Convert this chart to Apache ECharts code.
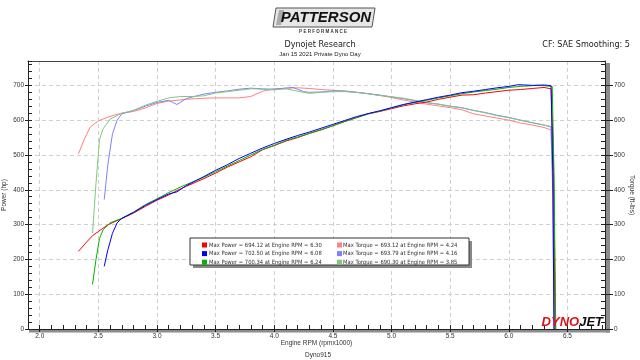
<!DOCTYPE html>
<html><head><meta charset="utf-8">
<script src="https://cdn.jsdelivr.net/npm/echarts@6/dist/echarts.min.js"></script>
<style>html,body{margin:0;padding:0;background:#fff}#c{width:640px;height:360px}</style>
</head><body><div id="c"></div>
<script>
// ---- data (rpm x1000, value) ----
const redPower = [[2.33,223],[2.40,250],[2.45,268],[2.50,280],[2.575,298],[2.65,310],[2.70,317],[2.80,333],[2.90,352],[3.00,370],[3.10,385],[3.17,398],[3.25,410],[3.40,432],[3.50,448],[3.60,465],[3.70,480],[3.80,495],[3.90,515],[4.00,527],[4.10,540],[4.20,550],[4.30,562],[4.40,572],[4.50,584],[4.60,596],[4.70,607],[4.80,618],[4.90,625],[5.00,633],[5.10,641],[5.20,647],[5.30,652],[5.40,660],[5.50,666],[5.60,672],[5.70,673],[5.80,678],[5.90,682],[6.00,686],[6.10,688],[6.20,691],[6.30,694],[6.36,690],[6.38,500],[6.395,0]];
const redTorque = [[2.33,503],[2.38,545],[2.43,580],[2.50,598],[2.575,608],[2.65,616],[2.70,620],[2.80,625],[2.90,635],[3.00,648],[3.10,655],[3.17,657],[3.25,660],[3.40,663],[3.50,664],[3.60,664],[3.70,664],[3.80,668],[3.90,683],[4.00,690],[4.10,692],[4.20,693],[4.30,691],[4.40,688],[4.50,686],[4.60,683],[4.70,680],[4.80,676],[4.90,671],[5.00,665],[5.10,658],[5.20,652],[5.30,646],[5.40,641],[5.50,636],[5.60,630],[5.70,618],[5.80,612],[5.90,606],[6.00,600],[6.10,592],[6.20,586],[6.30,579],[6.36,572],[6.38,400],[6.395,0]];
const bluePower = [[2.55,180],[2.58,226],[2.62,275],[2.66,305],[2.70,318],[2.80,335],[2.90,355],[3.00,372],[3.10,388],[3.17,394],[3.25,412],[3.40,438],[3.50,456],[3.60,472],[3.70,490],[3.80,505],[3.90,520],[4.00,533],[4.10,545],[4.20,556],[4.30,566],[4.40,577],[4.50,588],[4.60,599],[4.70,610],[4.80,619],[4.90,627],[5.00,636],[5.10,645],[5.20,652],[5.30,659],[5.40,666],[5.50,672],[5.60,679],[5.70,683],[5.80,688],[5.90,693],[6.00,697],[6.08,702],[6.20,700],[6.30,701],[6.36,699],[6.375,450],[6.385,0]];
const blueTorque = [[2.55,372],[2.58,470],[2.62,560],[2.66,600],[2.70,618],[2.80,628],[2.90,640],[3.00,651],[3.10,657],[3.17,645],[3.25,662],[3.40,675],[3.50,680],[3.60,684],[3.70,689],[3.80,692],[3.90,690],[4.00,689],[4.10,692],[4.16,694],[4.25,682],[4.30,680],[4.40,681],[4.50,684],[4.60,684],[4.70,680],[4.80,676],[4.90,672],[5.00,667],[5.10,662],[5.20,656],[5.30,650],[5.40,646],[5.50,640],[5.60,636],[5.70,628],[5.80,622],[5.90,614],[6.00,608],[6.10,600],[6.20,593],[6.30,586],[6.36,580],[6.375,380],[6.385,0]];
const greenPower = [[2.45,128],[2.48,200],[2.51,260],[2.54,285],[2.60,305],[2.70,318],[2.80,336],[2.90,357],[3.00,374],[3.10,392],[3.20,408],[3.30,422],[3.40,436],[3.50,452],[3.60,468],[3.70,484],[3.80,500],[3.90,516],[4.00,528],[4.10,542],[4.20,552],[4.30,562],[4.40,573],[4.50,584],[4.60,596],[4.70,607],[4.80,618],[4.90,626],[5.00,635],[5.10,644],[5.20,651],[5.30,657],[5.40,664],[5.50,670],[5.60,676],[5.70,681],[5.80,685],[5.90,689],[6.00,694],[6.10,697],[6.24,700],[6.30,699],[6.37,697],[6.385,450],[6.40,0]];
const greenTorque = [[2.45,275],[2.48,420],[2.51,545],[2.54,575],[2.60,603],[2.70,620],[2.80,628],[2.90,643],[3.00,654],[3.10,664],[3.20,668],[3.30,668],[3.40,670],[3.50,678],[3.60,682],[3.70,686],[3.80,690],[3.85,690],[3.90,688],[4.00,687],[4.10,690],[4.20,683],[4.30,677],[4.40,680],[4.50,682],[4.60,682],[4.70,680],[4.80,676],[4.90,671],[5.00,667],[5.10,663],[5.20,657],[5.30,651],[5.40,646],[5.50,640],[5.60,635],[5.70,628],[5.80,621],[5.90,613],[6.00,607],[6.10,600],[6.20,592],[6.30,586],[6.37,581],[6.385,380],[6.40,0]];

const legendPower = ['Max Power = 694.12 at Engine RPM = 6.30','Max Power = 702.50 at Engine RPM = 6.08','Max Power = 700.34 at Engine RPM = 6.24'];
const legendTorque = ['Max Torque = 693.12 at Engine RPM = 4.24','Max Torque = 693.79 at Engine RPM = 4.16','Max Torque = 690.30 at Engine RPM = 3.85'];

const powerColors = ['#ff0000','#0000ff','#00b400'];
const torqueColors = ['#ff8080','#8080ff','#80c880'];

const X_MIN = 1.9, X_MAX = 6.82, Y_MAX = 770;
const font = 'Liberation Sans';
const lab = {fontFamily: font, fontSize: 6.5, color: '#333'};

const chart = echarts.init(document.getElementById('c'), null, {renderer: 'canvas'});

function line(data, color, yIdx, name){
  return {type:'line', name, data, xAxisIndex:0, yAxisIndex:yIdx, showSymbol:false, symbol:'none',
    lineStyle:{width:1, color}, itemStyle:{color}, animation:false, z:3};
}

const series = [
  line(redTorque, torqueColors[0], 1, 'rt'),
  line(blueTorque, torqueColors[1], 1, 'bt'),
  line(greenTorque, torqueColors[2], 1, 'gt'),
  line(redPower, powerColors[0], 0, 'rp'),
  line(greenPower, powerColors[2], 0, 'gp'),
  line(bluePower, powerColors[1], 0, 'bp'),
];

// legend graphic
const legendGroup = [];
const lx = 190, ly = 238, lw = 279, lh = 27;
legendGroup.push({type:'rect', shape:{x:lx+3, y:ly+3, width:lw, height:lh}, style:{fill:'#888'}, z:10});
legendGroup.push({type:'rect', shape:{x:lx, y:ly, width:lw, height:lh}, style:{fill:'#fff', stroke:'#333', lineWidth:1}, z:11});
for (let i=0;i<3;i++){
  const y = ly + 4.5 + i*8.6;
  legendGroup.push({type:'rect', shape:{x:lx+12, y:y, width:5, height:5}, style:{fill:powerColors[i]}, z:12});
  legendGroup.push({type:'text', x:lx+19, y:y+2.5, style:{text:legendPower[i], fill:'#333', font:'5.8px "DejaVu Sans Condensed", "DejaVu Sans"', verticalAlign:'middle'}, z:12});
  legendGroup.push({type:'rect', shape:{x:lx+147, y:y, width:5, height:5}, style:{fill:torqueColors[i]}, z:12});
  legendGroup.push({type:'text', x:lx+153, y:y+2.5, style:{text:legendTorque[i], fill:'#333', font:'5.8px "DejaVu Sans Condensed", "DejaVu Sans"', verticalAlign:'middle'}, z:12});
}

const nameStyle = {fontFamily:font, fontSize:6.5, color:'#333'};

const option = {
  animation:false,
  backgroundColor:'#fff',
  grid:{left:28, right:35, top:61, bottom:31, show:false, containLabel:false, outerBoundsMode:'none'},
  xAxis:[
    {type:'value', min:X_MIN, max:X_MAX, splitNumber:10, position:'bottom',
     axisLine:{show:true, onZero:false, lineStyle:{color:'#222', width:1}},
     axisTick:{show:true, inside:false, length:3, lineStyle:{color:'#222'}},
     axisLabel:{...lab, showMinLabel:false, showMaxLabel:false, margin:4, formatter:v=>v.toFixed(1)},
     splitLine:{show:true, lineStyle:{color:'#d0d0d0', type:[4,3], width:1}},
     name:'Engine RPM (rpmx1000)', nameLocation:'middle', nameGap:11, nameMoveOverlap:false,
     nameTextStyle:nameStyle},
    {type:'value', min:X_MIN, max:X_MAX, interval:0.1, position:'bottom',
     axisLine:{show:false, onZero:false}, axisLabel:{show:false}, splitLine:{show:false},
     axisTick:{show:true, inside:true, length:4, lineStyle:{color:'#222'}}},
    {type:'value', min:X_MIN, max:X_MAX, position:'top',
     axisLine:{show:true, onZero:false, lineStyle:{color:'#444', width:1}},
     axisTick:{show:false}, axisLabel:{show:false}, splitLine:{show:false}}
  ],
  yAxis:[
    {type:'value', min:0, max:Y_MAX, interval:100, position:'left',
     axisLine:{show:true, onZero:false, lineStyle:{color:'#222'}},
     axisTick:{show:true, inside:false, length:3, lineStyle:{color:'#222'}},
     axisLabel:{...lab, showMaxLabel:false, margin:4},
     splitLine:{show:true, lineStyle:{color:'#d0d0d0', type:[4,3], width:1}},
     name:'Power (hp)', nameLocation:'middle', nameGap:20, nameRotate:90, nameMoveOverlap:false,
     nameTextStyle:nameStyle},
    {type:'value', min:0, max:Y_MAX, interval:100, position:'right',
     axisLine:{show:true, onZero:false, lineStyle:{color:'#222'}},
     axisTick:{show:true, inside:false, length:8, lineStyle:{color:'#222'}},
     axisLabel:{...lab, showMaxLabel:false, margin:9},
     splitLine:{show:false},
     name:'Torque (ft-lbs)', nameLocation:'middle', nameGap:23, nameRotate:-90, nameMoveOverlap:false,
     nameTextStyle:nameStyle},
    {type:'value', min:0, max:Y_MAX, interval:20, position:'left',
     axisLine:{show:false, onZero:false}, axisLabel:{show:false}, splitLine:{show:false},
     axisTick:{show:true, inside:true, length:4, lineStyle:{color:'#222'}}},
    {type:'value', min:0, max:Y_MAX, interval:20, position:'right',
     axisLine:{show:false, onZero:false}, axisLabel:{show:false}, splitLine:{show:false},
     axisTick:{show:true, inside:true, length:4, lineStyle:{color:'#222'}}}
  ],
  series,
  graphic:[
    // shadow bands on bottom and right of plot
    {type:'rect', shape:{x:29, y:329.5, width:581, height:3}, style:{fill:'#8c8c8c'}, z:-1},
    {type:'rect', shape:{x:605.5, y:63, width:4.5, height:269.5}, style:{fill:'#8c8c8c'}, z:-1},
    // PATTERSON logo
    {type:'polygon', shape:{points:[[276,8],[375,8],[372,27],[273,27]]}, style:{fill:'#e6e6e6', stroke:'#555', lineWidth:1}, z:5},
    {type:'polygon', shape:{points:[[279,10],[284,10],[281,25],[276,25]]}, style:{fill:'#aaa'}, z:5},
    {type:'text', x:326, y:17.5, style:{text:'PATTERSON', font:'italic bold 15px "Liberation Sans"', fill:'#111', align:'center', verticalAlign:'middle'}, z:6},
    {type:'text', x:323, y:32, style:{text:'P E R F O R M A N C E', font:'bold 4.5px "Liberation Sans"', fill:'#333', align:'center', verticalAlign:'middle'}, z:6},
    {type:'text', x:320, y:45, style:{text:'Dynojet Research', font:'9px "DejaVu Sans Condensed", "DejaVu Sans"', fill:'#222', align:'center', verticalAlign:'middle'}, z:6},
    {type:'text', x:320, y:54.5, style:{text:'Jan 15 2021 Private Dyno Day', font:'6px "Liberation Sans"', fill:'#222', align:'center', verticalAlign:'middle'}, z:6},
    {type:'text', x:630, y:45, style:{text:'CF: SAE Smoothing: 5', font:'9px "DejaVu Sans Condensed", "DejaVu Sans"', fill:'#222', align:'right', verticalAlign:'middle'}, z:6},
    {type:'text', x:318, y:355.5, style:{text:'Dyno915', font:'6.5px "Liberation Sans"', fill:'#333', align:'center', verticalAlign:'middle'}, z:6},
    // DYNOJET logo
    {type:'text', x:603, y:322.5, style:{text:'{a|DYNO}{b|JET}', align:'right', verticalAlign:'middle',
      rich:{a:{font:'italic bold 13px "Liberation Sans"', fill:'#e0101a'}, b:{font:'italic bold 13px "Liberation Sans"', fill:'#111'}}}, z:6},
    ...legendGroup
  ]
};
chart.setOption(option);
</script>
</body></html>
